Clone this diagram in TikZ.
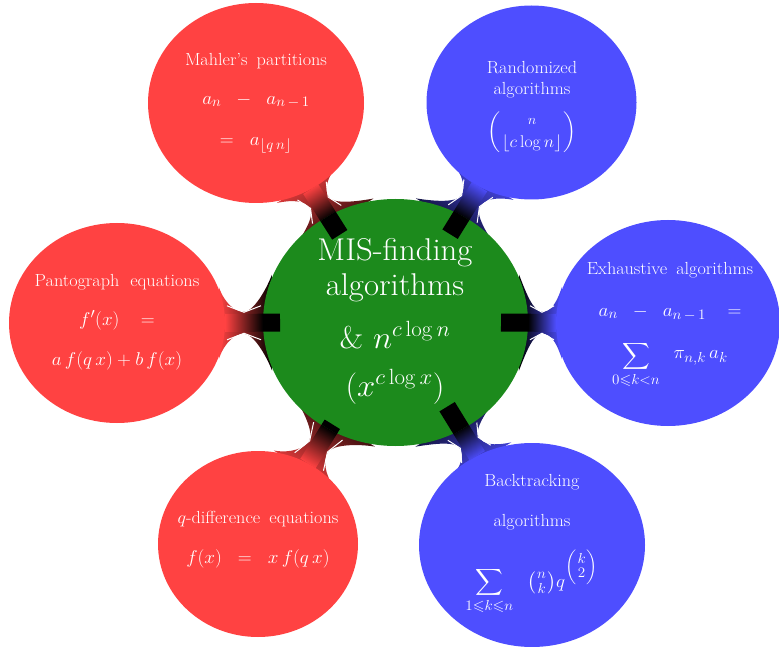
\RequirePackage{fix-cm}
\documentclass[tikz,border=0pt]{standalone}
\usepackage{amsmath,amssymb}
\usetikzlibrary{calc,shapes.geometric}
\DeclareMathSizes{18.5}{18.5}{14.5}{11}
\DeclareMathSizes{17.5}{17.5}{13.5}{10.5}
\DeclareMathSizes{17}{17}{13}{10}
\DeclareMathSizes{31.5}{31.5}{22}{16}
\definecolor{cred}{RGB}{255,66,66}
\definecolor{cblue}{RGB}{78,78,255}
\definecolor{cgreen}{RGB}{28,138,28}
\newcommand\mf{\fontsize{18.5}{22}\selectfont}
\tikzset{
  bubble/.style={ellipse, inner sep=0pt, draw=none},
  lbl/.style={text=white, align=center, font=\fontsize{17.5}{21}\selectfont, xscale=1.04, inner sep=0pt},
  rootlbl/.style={text=white, align=center, font=\fontsize{31.5}{35}\selectfont, xscale=1.04, inner sep=0pt},
  sliver/.style={draw=white, line width=1pt},
}
\def\GRX{13.25}\def\GRY{12.35}
% #1 child node, #2 child colour, #3 child x radius, #4 child y radius
\newcommand\neck[4]{%
 \pgfpointdiff{\pgfpointanchor{G}{center}}{\pgfpointanchor{#1}{center}}%
 \pgfgetlastxy{\nkdx}{\nkdy}%
 \pgfmathsetmacro\nkD{veclen(\nkdx,\nkdy)}%
 \pgfmathsetmacro\nkang{atan2(\nkdy,\nkdx)}%
 \pgfmathsetmacro\nkco{cos(\nkang)}\pgfmathsetmacro\nksi{sin(\nkang)}%
 \pgfmathsetmacro\nkrp{10*\GRX*\GRY/sqrt((\GRY*\nkco)^2+(\GRX*\nksi)^2)}%
 \pgfmathsetmacro\nkrc{10*(#3/10)*(#4/10)/sqrt((#4/10*\nkco)^2+(#3/10*\nksi)^2)}%
 \pgfmathsetmacro\nkm{(\nkrp+\nkD-\nkrc)/2}%
 \def\nkLp{48}\def\nkLc{36}\def\nkh{11}\def\nkt{18}\def\nks{9}%
 \pgfmathsetmacro\nkpa{asin(\nkLp/\nkrp)}%
 \pgfmathsetmacro\nkxp{\nkrp*cos(\nkpa)}%
 \pgfmathsetmacro\nkxa{\nkxp+\nkt*\nkLp/\nkrp}\pgfmathsetmacro\nkya{\nkLp-\nkt*\nkxp/\nkrp}%
 \pgfmathsetmacro\nkra{veclen(\nkxa,\nkya)}\pgfmathsetmacro\nkpb{atan2(\nkya,\nkxa)}%
 \pgfmathsetmacro\nkrb{veclen(\nkm-\nks,\nkh)}\pgfmathsetmacro\nkpc{atan2(\nkh,\nkm-\nks)}%
 \pgfmathsetmacro\nkrw{veclen(\nkm,\nkh)}\pgfmathsetmacro\nkpw{atan2(\nkh,\nkm)}%
 \pgfmathsetmacro\nkqa{asin(\nkLc/\nkrc)}%
 \pgfmathsetmacro\nkxq{\nkrc*cos(\nkqa)}%
 \pgfmathsetmacro\nkxqa{\nkxq+\nkt*\nkLc/\nkrc}\pgfmathsetmacro\nkyqa{\nkLc-\nkt*\nkxq/\nkrc}%
 \pgfmathsetmacro\nkrqa{veclen(\nkxqa,\nkyqa)}\pgfmathsetmacro\nkqb{atan2(\nkyqa,\nkxqa)}%
 \pgfmathsetmacro\nkrqb{veclen(\nkD-\nkm-\nks,\nkh)}\pgfmathsetmacro\nkqc{atan2(\nkh,\nkD-\nkm-\nks)}%
 \pgfmathsetmacro\nksa{\nkang+90}%
 \shade[top color=black, bottom color=#2, shading angle=\nksa]
   ($(G)!\nkrp pt!\nkpa:(#1)$) .. controls ($(G)!\nkra pt!\nkpb:(#1)$) and ($(G)!\nkrb pt!\nkpc:(#1)$) .. ($(G)!\nkrw pt!\nkpw:(#1)$)
   .. controls ($(#1)!\nkrqb pt!-\nkqc:(G)$) and ($(#1)!\nkrqa pt!-\nkqb:(G)$) .. ($(#1)!\nkrc pt!-\nkqa:(G)$)
   -- ($(#1)!\nkrc pt!\nkqa:(G)$)
   .. controls ($(#1)!\nkrqa pt!\nkqb:(G)$) and ($(#1)!\nkrqb pt!\nkqc:(G)$) .. ($(G)!\nkrw pt!-\nkpw:(#1)$)
   .. controls ($(G)!\nkrb pt!-\nkpc:(#1)$) and ($(G)!\nkra pt!-\nkpb:(#1)$) .. ($(G)!\nkrp pt!-\nkpa:(#1)$) -- cycle;
 \pgfmathsetmacro\nkrs{veclen(\nkrp+2,17)}\pgfmathsetmacro\nkps{atan2(17,\nkrp+2)}%
 \pgfmathsetmacro\nkrt{veclen(\nkm,10.5)}\pgfmathsetmacro\nkpt{atan2(10.5,\nkm)}%
 \pgfmathsetmacro\nkru{veclen(\nkrc+2,17)}\pgfmathsetmacro\nkpu{atan2(17,\nkrc+2)}%
 \draw[sliver] ($(G)!\nkrs pt!\nkps:(#1)$) -- ($(G)!\nkrt pt!\nkpt:(#1)$) -- ($(#1)!\nkru pt!-\nkpu:(G)$);
 \draw[sliver] ($(G)!\nkrs pt!-\nkps:(#1)$) -- ($(G)!\nkrt pt!-\nkpt:(#1)$) -- ($(#1)!\nkru pt!\nkpu:(G)$);
}
% bar and black block drawn above the bubbles
% #1 child node, #2 child colour, #3 child x radius, #4 child y radius, #5 block length
\newcommand\nkbar[5]{%
 \pgfpointdiff{\pgfpointanchor{G}{center}}{\pgfpointanchor{#1}{center}}%
 \pgfgetlastxy{\nkdx}{\nkdy}%
 \pgfmathsetmacro\nkang{atan2(\nkdy,\nkdx)}%
 \pgfmathsetmacro\nkco{cos(\nkang)}\pgfmathsetmacro\nksi{sin(\nkang)}%
 \pgfmathsetmacro\nkrp{10*\GRX*\GRY/sqrt((\GRY*\nkco)^2+(\GRX*\nksi)^2)}%
 \pgfmathsetmacro\nkrc{10*(#3/10)*(#4/10)/sqrt((#4/10*\nkco)^2+(#3/10*\nksi)^2)}%
 \pgfmathsetmacro\nkcb{veclen(\nkrc,9)}\pgfmathsetmacro\nkcp{atan2(9,\nkrc)}%
 \pgfmathsetmacro\nkba{veclen(\nkrp,9)}\pgfmathsetmacro\nkbp{atan2(9,\nkrp)}%
 \pgfmathsetmacro\nkbb{veclen(\nkrp-#5,9)}\pgfmathsetmacro\nkbq{atan2(9,\nkrp-#5)}%
 \pgfmathsetmacro\nksa{\nkang+90}%
 \shade[top color=black, bottom color=#2, shading angle=\nksa]
   ($(G)!\nkba pt!\nkbp:(#1)$) -- ($(#1)!\nkcb pt!-\nkcp:(G)$) -- ($(#1)!\nkcb pt!\nkcp:(G)$) -- ($(G)!\nkba pt!-\nkbp:(#1)$) -- cycle;
 \fill[black] ($(G)!\nkbb pt!\nkbq:(#1)$) -- ($(G)!\nkba pt!\nkbp:(#1)$) -- ($(G)!\nkba pt!-\nkbp:(#1)$) -- ($(G)!\nkbb pt!-\nkbq:(#1)$) -- cycle;
}
\begin{document}
\begin{tikzpicture}[x=1pt,y=1pt]
\useasboundingbox (0,0) rectangle (779,646);
% bubbles (positions)
\node[bubble, minimum width=265pt, minimum height=247pt] (G) at (395.5,323.5) {};
\node[bubble, minimum width=216pt, minimum height=200pt] (M) at (256,543) {};
\node[bubble, minimum width=210pt, minimum height=194pt] (R) at (531.5,543.5) {};
\node[bubble, minimum width=216pt, minimum height=200pt] (P) at (117,323) {};
\node[bubble, minimum width=224pt, minimum height=206pt] (E) at (668,323) {};
\node[bubble, minimum width=200pt, minimum height=186pt] (Q) at (258,102) {};
\node[bubble, minimum width=226pt, minimum height=204pt] (B) at (532,101) {};
% connectors
\neck{M}{cred}{108}{100}
\neck{R}{cblue}{105}{97}
\neck{P}{cred}{108}{100}
\neck{E}{cblue}{112}{103}
\neck{Q}{cred}{100}{93}
\neck{B}{cblue}{113}{102}
% filled bubbles
\fill[cgreen] (G.center) ellipse [x radius=132.5, y radius=123.5];
\fill[cred] (M.center) ellipse [x radius=108, y radius=100];
\fill[cblue] (R.center) ellipse [x radius=105, y radius=97];
\fill[cred] (P.center) ellipse [x radius=108, y radius=100];
\fill[cblue] (E.center) ellipse [x radius=112, y radius=103];
\fill[cred] (Q.center) ellipse [x radius=100, y radius=93];
\fill[cblue] (B.center) ellipse [x radius=113, y radius=102];
% bars
\nkbar{M}{cred}{108}{100}{22}
\nkbar{R}{cblue}{105}{97}{22}
\nkbar{P}{cred}{108}{100}{17}
\nkbar{E}{cblue}{112}{103}{27}
\nkbar{Q}{cred}{100}{93}{6}
\nkbar{B}{cblue}{113}{102}{27}
% texts
\node[rootlbl] (Gt) at (395,325) {MIS-finding\\algorithms\\[18pt]\&\ $n^{c\log n}$\\[13pt]$(x^{c\log x})$};
\node[lbl] (Mt) at (256,543) {Mahler's\hspace{0.5em}partitions\\[18pt]{\mf$a_n\;\;-\;\;a_{n\,-\,1}$}\\[20pt]{\mf$=\;\;a_{\lfloor q\,n\rfloor}$}};
\node[lbl] (Rt) at (532,539) {Randomized\\algorithms\\[12pt]{\fontsize{17}{20}\selectfont$\left(\genfrac{}{}{0pt}{0}{\mbox{\fontsize{14}{16}\selectfont$n$}}{\lfloor c\log n\rfloor}\right)$}};
\node[lbl] (Pt) at (117,324) {Pantograph\hspace{0.6em}equations\\[18pt]{\mf$f'(x)\;\;\;=$}\\[19pt]{\mf$a\,f(q\,x)+b\,f(x)$}};
\node[lbl] (Et) at (670,321) {Exhaustive\hspace{0.5em}algorithms\\[21pt]{\mf$a_n\;\;-\;\;a_{n\,-\,1}\;\;\;=$}\\[20pt]{\mf$\displaystyle\sum_{0\leqslant k<n}\;\;\raisebox{2pt}{$\pi_{n,k}\,a_k$}$}};
\node[lbl] (Qt) at (258,106) {$q$-difference\hspace{0.5em}equations\\[19pt]{\mf$f(x)\;\;=\;\;x\,f(q\,x)$}};
\node[lbl] (Bt) at (532,101.5) {Backtracking\\[19pt]algorithms\\[19pt]{\mf$\displaystyle\sum_{1\leqslant k\leqslant n}\;\;\left(\genfrac{}{}{0pt}{1}{n}{k}\right)\!q^{\left(\genfrac{}{}{0pt}{1}{k}{2}\right)}$}};
\end{tikzpicture}
\end{document}
